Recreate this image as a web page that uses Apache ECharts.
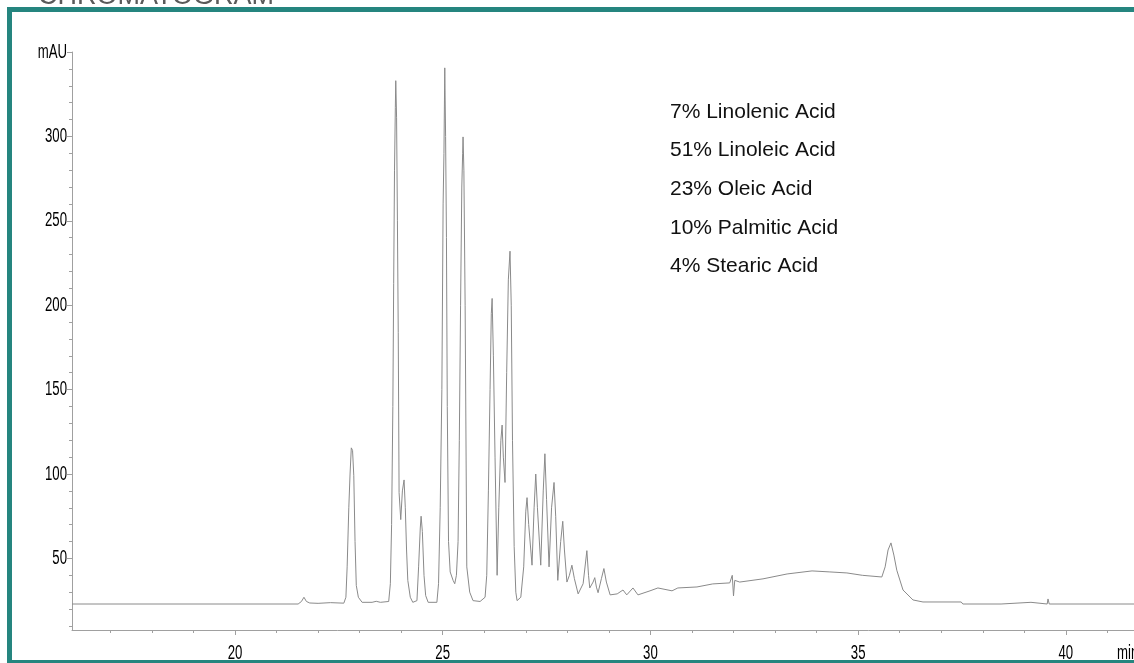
<!DOCTYPE html>
<html>
<head>
<meta charset="utf-8">
<script src="https://cdn.jsdelivr.net/npm/echarts@6/dist/echarts.min.js"></script>
<style>
html,body{margin:0;padding:0;background:#fff;}
#chart{width:1134px;height:663px;}
</style>
</head>
<body>
<div id="chart"></div>
<script>
// Retention time (min) / absorbance (mAU)
const earlyTrace = [
  [16.08,23],[21.52,23],[21.60,24.5],[21.66,27],[21.72,24.5],[21.80,23.6],[22.00,23.4],[22.30,23.8],[22.62,23.5],
  [22.67,27],[22.70,45],[22.74,80],[22.77,100],[22.80,115.5],[22.83,114],[22.86,99],[22.89,60],[22.92,34],[22.97,27],
  [23.06,24],[23.30,24],[23.40,24.6],[23.50,24],[23.70,24.5]
];
const majorPeaks = [
  [23.74,35],[23.77,70],[23.80,140],[23.82,213],[23.84,280],[23.86,317],[23.87,333],[23.89,311],[23.91,250],[23.93,184],
  [23.95,89],[23.99,73],[24.03,90],[24.07,96.5],[24.10,80],[24.13,55],[24.16,37],[24.22,27],[24.28,24],
  [24.38,25],[24.42,45],[24.46,68],[24.48,75],[24.51,66],[24.55,40],[24.59,28],[24.65,24],[24.86,24],
  [24.90,35],[24.94,80],[24.98,150],[25.01,260],[25.03,290],[25.05,340.6],[25.07,300],[25.09,240],[25.11,140],[25.14,60],
  [25.18,42],[25.25,37],[25.29,35],[25.33,40],[25.37,60],[25.40,120],[25.43,200],[25.46,270],[25.48,290],[25.49,299.7],
  [25.51,280],[25.54,200],[25.58,45],[25.65,30],[25.73,25],[25.90,24.5],
  [26.02,27],[26.06,40],[26.10,90],[26.14,150],[26.17,195],[26.19,204],[26.22,170],[26.26,110],[26.31,40],
  [26.35,80],[26.40,120],[26.43,129],[26.46,110],[26.50,95],[26.54,160],[26.58,215],[26.62,232],[26.65,200],
  [26.68,120],[26.72,57],[26.76,30],[26.79,25]
];
const clusterPeaks = [
  [26.88,27],[26.95,45],[27.00,78],[27.03,86],[27.07,70],[27.15,46],[27.20,80],[27.24,100],[27.28,80],[27.36,46],
  [27.42,90],[27.46,112],[27.50,85],[27.56,45],[27.62,80],[27.68,95],[27.72,75],[27.77,37],[27.84,60],[27.89,72],
  [27.93,55],[27.99,36],[28.05,40],[28.11,46],[28.17,38],[28.26,29],[28.38,35],[28.47,54.6],[28.51,40],[28.54,32.5],
  [28.62,36],[28.66,38.6],[28.70,33],[28.74,29.7],[28.82,38],[28.88,44],[28.94,36],[29.03,28.4]
];
const lateTrace = [
  [29.20,29],[29.34,31.3],[29.43,28.4],[29.58,32.5],[29.70,28.4],[29.99,30.8],[30.18,32.5],[30.52,30.8],[30.66,32.5],
  [31.12,33.1],[31.50,34.9],[31.91,35.5],[31.97,40],[32.00,27.8],[32.03,37],[32.15,36],[32.71,37.9],[33.29,40.8],
  [33.89,42.6],[34.32,42],[34.73,41.4],[35.10,40],[35.57,39],[35.65,45],[35.72,55],[35.79,59.2],[35.86,52],[35.93,43],
  [36.08,31.3],[36.32,25.4],[36.56,24.2],[37.48,24.2],[37.52,23],[38.44,23],[38.48,24],[39.16,24],[39.20,23],
  [39.55,23],[39.57,26],[39.60,23],[41.64,23]
];
const yMajorTicks = [50,100,150,200,250,300,350];
const yTickLabels = ['50','100','150','200','250','300','mAU'];
const yMinorTicks = [10,20,30,40,60,70,80,90,110,120,130,140,160,170,180,190,210,220,230,240,260,270,280,290,310,320,330,340];
const xMajorTicks = [20,25,30,35,40];
const xTickLabels = ['20','25','30','35','40'];
const xMinorTicks = [17,18,19,21,22,23,24,26,27,28,29,31,32,33,34,36,37,38,39,41];
const xAxisName = 'min';
const annotations = ['7% Linolenic Acid','51% Linoleic Acid','23% Oleic Acid','10% Palmitic Acid','4% Stearic Acid'];

const trace = earlyTrace.concat(majorPeaks, clusterPeaks, lateTrace);
const X_MIN = 16.077, X_MAX = 41.64, Y_MIN = 7.6, Y_MAX = 350;
const axisGrey = '#a0a0a0';
const labelFont = "20px 'Liberation Sans', Arial, sans-serif";
const SQUEEZE = 0.66;

const chart = echarts.init(document.getElementById('chart'), null, {renderer:'canvas'});

chart.setOption({
  animation:false,
  backgroundColor:'#fff',
  grid:{left:72, right:0, top:52, bottom:33, containLabel:false},
  xAxis:[
    {type:'value', min:X_MIN, max:X_MAX, position:'bottom',
     axisLine:{show:true, lineStyle:{color:axisGrey, width:1}},
     axisTick:{show:true, length:5, customValues:xMajorTicks, lineStyle:{color:axisGrey}},
     axisLabel:{show:false}, splitLine:{show:false}},
    {type:'value', min:X_MIN, max:X_MAX, position:'bottom',
     axisLine:{show:false},
     axisTick:{show:true, length:3, customValues:xMinorTicks, lineStyle:{color:axisGrey}},
     axisLabel:{show:false}, splitLine:{show:false}}
  ],
  yAxis:[
    {type:'value', min:Y_MIN, max:Y_MAX, position:'left',
     axisLine:{show:true, lineStyle:{color:axisGrey, width:1}},
     axisTick:{show:true, length:5, customValues:yMajorTicks, lineStyle:{color:axisGrey}},
     axisLabel:{show:false}, splitLine:{show:false}},
    {type:'value', min:Y_MIN, max:Y_MAX, position:'left',
     axisLine:{show:false},
     axisTick:{show:true, length:3, customValues:yMinorTicks, lineStyle:{color:axisGrey}},
     axisLabel:{show:false}, splitLine:{show:false}}
  ],
  series:[{
    type:'line', xAxisIndex:0, yAxisIndex:0, data:trace, showSymbol:false, symbol:'none',
    lineStyle:{color:'#8a8a8a', width:1}, clip:true, silent:true
  }]
});

// Tick labels placed through the axes' own scales, drawn horizontally condensed like the original
const graphics = [
  {type:'text', x:38, y:-17, style:{text:'CHROMATOGRAM', fill:'#5a5a5a', font:"27px 'Liberation Sans', Arial, sans-serif"}},
  {type:'rect', shape:{x:9.5, y:9.5, width:1200, height:653}, style:{fill:'none', stroke:'#25857f', lineWidth:5}}
];
const axisYpx = chart.convertToPixel({yAxisIndex:0}, Y_MIN);
const axisXpx = chart.convertToPixel({xAxisIndex:0}, X_MIN);
yMajorTicks.forEach((v,i)=>{
  graphics.push({type:'text', x:axisXpx - 5, y:chart.convertToPixel({yAxisIndex:0}, v), scaleX:SQUEEZE,
    style:{text:yTickLabels[i], fill:'#000', font:labelFont, align:'right', verticalAlign:'middle'}});
});
xMajorTicks.forEach((v,i)=>{
  graphics.push({type:'text', x:chart.convertToPixel({xAxisIndex:0}, v), y:axisYpx + 23, scaleX:SQUEEZE,
    style:{text:xTickLabels[i], fill:'#000', font:labelFont, align:'center', verticalAlign:'middle'}});
});
graphics.push({type:'text', x:1117, y:axisYpx + 23, scaleX:SQUEEZE,
  style:{text:xAxisName, fill:'#000', font:labelFont, align:'left', verticalAlign:'middle'}});
annotations.forEach((t,i)=>{
  graphics.push({type:'text', x:670, y:112 + i*38.6,
    style:{text:t, fill:'#111', font:"21px 'Liberation Sans', Arial, sans-serif", verticalAlign:'middle'}});
});
chart.setOption({graphic:graphics});
</script>
</body>
</html>
